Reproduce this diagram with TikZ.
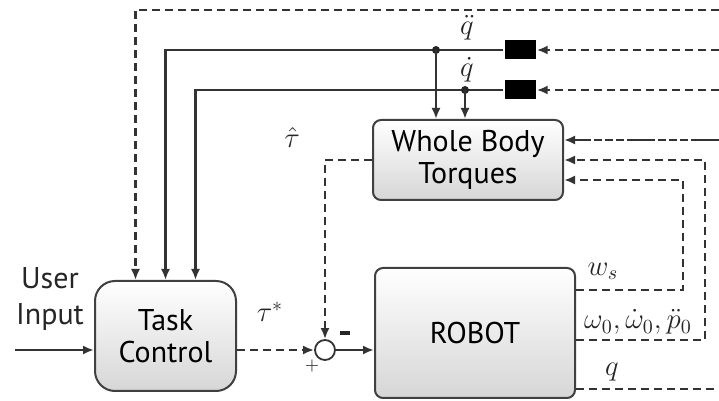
\documentclass[tikz,border=0pt]{standalone}
\usepackage{amsmath,amssymb}
\usepackage{fontspec}
\usepackage{tikz}
\usetikzlibrary{arrows.meta,calc,positioning}
\newfontfamily\boxfont{PT Sans}

\begin{document}
\begin{tikzpicture}[x=0.5pt,y=-0.5pt,line width=1.2pt,
  blk/.style={draw=black!75,line width=1pt,rounded corners=4pt,top color=white,bottom color=black!16,
    font=\boxfont\fontsize{15}{16}\selectfont,align=center,inner sep=0pt},
  sig/.style={-{Latex[length=5.5pt,width=4.5pt]}},
  dsh/.style={dash pattern=on 4pt off 2.5pt},
  mix/.style={dash pattern=on 14pt off 1.5pt on 4pt off 1.5pt on 4pt off 1.5pt on 4pt off 1.5pt},
  lbl/.style={font=\fontsize{14}{15}\selectfont,text=black!85,inner sep=0pt}]
  \useasboundingbox (0,0) rectangle (719,401);

  % blocks
  \node[blk,minimum width=70.5pt,minimum height=55pt,rounded corners=10pt] (tc) at (165.5,336) {Task\\Control};
  \node[blk,minimum width=95pt,minimum height=40pt] (wbt) at (468,160) {Whole Body\\Torques};
  \node[blk,minimum width=100pt,minimum height=65pt] (robot) at (475,333) {ROBOT};
  \node[draw=black!80,line width=0.9pt,circle,minimum size=10pt,inner sep=0pt,fill=white] (sum) at (325,350) {};
  \node[fill=black,minimum width=15.5pt,minimum height=9.5pt,inner sep=0pt] (qdd) at (520,50) {};
  \node[fill=black,minimum width=15.5pt,minimum height=9.5pt,inner sep=0pt] (qd) at (520,90) {};

  % right edge
  \coordinate (r0) at (719,10);
  \coordinate (r1) at (719,50);
  \coordinate (r2) at (719,90);
  \coordinate (r3) at (719,140);
  \coordinate (r4) at (719,389);

  % measured signals to task control
  \draw[sig,dsh,draw=black!80] (r0) -| ([xshift=-15pt]tc.north);
  \draw[sig,draw=black!80] (qdd.west) -| (tc.north);
  \draw[sig,draw=black!80] (qd.west) -| ([xshift=15pt]tc.north);
  \draw[sig,dsh,draw=black!80] (r1) -- (qdd.east);
  \draw[sig,dsh,draw=black!80] (r2) -- (qd.east);

  % branches to whole body torques
  \coordinate (d1) at (436,50);
  \coordinate (d2) at (465,90);
  \fill[black!85] (d1) circle (2pt) (d2) circle (2pt);
  \draw[sig,draw=black!80] (d1) -- (d1 |- wbt.north);
  \draw[sig,draw=black!80] (d2) -- (d2 |- wbt.north);
  \node[lbl] (lqdd) at (467,28) {$\ddot{q}$};
  \node[lbl] (lqd) at (467,70) {$\dot{q}$};

  % robot outputs
  \draw[sig,mix,draw=black!80] (r3) -- ([yshift=10pt]wbt.east);
  \draw[sig,dsh,draw=black!80] ([yshift=-3.5pt]robot.east) -| (705,160) -- (wbt.east);
  \draw[sig,dsh,draw=black!80] ([yshift=21.5pt]robot.east) -| (683,180) -- ([yshift=-10pt]wbt.east);
  \draw[dsh,draw=black!80] ([yshift=-28pt]robot.east) -- (r4);
  \node[lbl] (lws) at (603,271) {$w_s$};
  \node[lbl] (lom) at (638,322) {$\omega_0,\dot{\omega}_0,\ddot{p}_0$};
  \node[lbl] (lq) at (612,372) {$q$};

  % torque loop
  \draw[sig,dsh,draw=black!80] (wbt.west) -| (sum.north);
  \draw[sig,dsh,draw=black!80] ([yshift=-7pt]tc.east) -- (sum.west);
  \draw[sig,draw=black!80] (sum.east) -- (sum.east -| robot.west);
  \node[lbl] (ltauh) at (292,138) {$\hat{\tau}$};
  \node[lbl] (ltaus) at (270,312) {$\tau^{*}$};
  \node[fill=black!85,minimum width=5pt,minimum height=1.6pt,inner sep=0pt] (lminus) at (345,333) {};
  \node[lbl,font=\fontsize{9}{10}\selectfont] (lplus) at (312,366) {$+$};

  % user input
  \coordinate (uin) at (15,350);
  \draw[sig,draw=black!80] (uin) -- (uin -| tc.west);
  \node[lbl,font=\boxfont\fontsize{15}{18}\selectfont,align=center] (luser) at (50,299) {User\\Input};
\end{tikzpicture}
\end{document}
